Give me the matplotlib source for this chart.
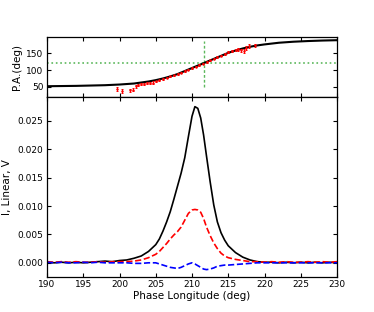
import matplotlib
matplotlib.use("Agg")
import matplotlib.pyplot as plt

# PA model curve
pa_lon = [190, 194, 198, 200, 202, 203, 204, 205, 206, 207, 208, 209, 210, 211, 211.6,
          212, 213, 214, 215, 216, 217, 218, 219, 220, 222, 224, 226, 228, 230]
pa_fit = [52, 53, 55, 57, 60, 63, 66, 70, 75, 81, 88, 97, 106, 115, 120,
          124, 133, 142, 151, 158, 164, 169, 173, 176, 181, 184, 186, 187.5, 188.5]

# PA measured points
pt_lon = [199.7, 200.3, 201.5, 201.9, 202.3, 202.6, 203.0, 203.4, 203.8, 204.2, 204.6,
          205.0, 205.5, 206.0, 206.5, 207.0, 207.5, 208.0, 208.5, 209.0, 209.5, 210.0,
          210.5, 211.0, 211.5, 212.0, 212.5, 213.0, 213.5, 214.0, 214.5, 215.0, 215.5,
          216.0, 216.4, 216.8, 217.2, 217.5, 217.9, 218.7]
pt_pa = [44, 38, 40, 42, 52, 57, 58, 60, 62, 61, 63,
         66, 69, 73, 77, 81, 84, 88, 92, 97, 101, 106,
         110, 115, 119, 124, 129, 134, 139, 143, 148, 153, 157,
         159, 161, 158, 156, 165, 171, 173]
pt_err = [6, 6, 5, 5, 4, 3, 3, 3, 3, 3, 3,
          2, 2, 2, 2, 2, 2, 2, 2, 2, 2, 2,
          2, 2, 2, 2, 2, 2, 2, 2, 2, 2, 3,
          3, 4, 5, 5, 5, 5, 5]

# Profiles
lon = [190, 191, 192, 193, 194, 195, 196, 197, 198, 199, 200, 201, 202, 203, 204, 205,
       205.5, 206, 206.5, 207, 207.5, 208, 208.5, 209, 209.5, 210, 210.4, 210.8, 211.2,
       211.6, 212, 212.5, 213, 213.5, 214, 214.5, 215, 216, 217, 218, 219, 220, 221, 222,
       223, 224, 225, 226, 227, 228, 229, 230]
I = [0.0001, 0.0000, 0.0001, 0.0000, 0.0001, 0.0000, 0.0001, 0.0002, 0.0003, 0.0002,
     0.0004, 0.0005, 0.0008, 0.0012, 0.0020, 0.0032, 0.0042, 0.0056, 0.0072, 0.0090,
     0.0112, 0.0135, 0.0158, 0.0185, 0.0222, 0.0258, 0.0275, 0.0272, 0.0255, 0.0225,
     0.0188, 0.0143, 0.0102, 0.0072, 0.0053, 0.0040, 0.0030, 0.0018, 0.0010, 0.0005,
     0.0002, 0.0001, 0.0001, 0.0000, 0.0001, 0.0000, 0.0001, 0.0000, 0.0001, 0.0000,
     0.0001, 0.0000]
L = [0.0002, 0.0001, 0.0002, 0.0001, 0.0002, 0.0001, 0.0001, 0.0002, 0.0001, 0.0002,
     0.0002, 0.0002, 0.0003, 0.0005, 0.0009, 0.0015, 0.0020, 0.0027, 0.0034, 0.0042,
     0.0049, 0.0055, 0.0063, 0.0075, 0.0087, 0.0093, 0.0094, 0.0093, 0.0089, 0.0078,
     0.0063, 0.0048, 0.0035, 0.0025, 0.0017, 0.0012, 0.0009, 0.0006, 0.0004, 0.0002,
     0.0002, 0.0001, 0.0002, 0.0001, 0.0002, 0.0001, 0.0001, 0.0002, 0.0001, 0.0002,
     0.0001, 0.0002]
V = [0.0001, 0.0000, 0.0001, 0.0000, 0.0000, 0.0001, 0.0000, 0.0001, 0.0000, 0.0000,
     0.0000, 0.0000, -0.0001, -0.0001, 0.0000, 0.0000, -0.0002, -0.0004, -0.0006, -0.0008,
     -0.0009, -0.0010, -0.0008, -0.0005, -0.0002, 0.0000, -0.0002, -0.0005, -0.0008,
     -0.0011, -0.0012, -0.0011, -0.0009, -0.0006, -0.0005, -0.0004, -0.0004, -0.0003,
     -0.0002, -0.0001, 0.0000, 0.0000, 0.0000, 0.0000, 0.0000, 0.0000, 0.0000, 0.0000,
     0.0000, 0.0000, 0.0000, 0.0000]

xticks = [190, 195, 200, 205, 210, 215, 220, 225, 230]
pa_ticks = [50, 100, 150]
i_ticks = [0.000, 0.005, 0.010, 0.015, 0.020, 0.025]

fig = plt.figure(figsize=(3.74, 3.12), dpi=100)
ax1 = fig.add_axes([47/374, 1-97/312, 290/374, 60/312])
ax2 = fig.add_axes([47/374, 1-277/312, 290/374, 180/312])

ax1.plot(pa_lon, pa_fit, color='black', lw=1.5, zorder=3)
ax1.errorbar(pt_lon, pt_pa, yerr=pt_err, fmt='o', ms=0.8, color='red', ecolor='red',
             elinewidth=0.7, capsize=1.0, capthick=0.7, zorder=4)
ax1.axhline(120, color='#5cb85c', ls=':', lw=1.2, zorder=2)
ax1.plot([211.6, 211.6], [50, 186], color='#5cb85c', ls='--', lw=1.0, dashes=(2, 1.5), zorder=2)
ax1.set_xlim(190, 230)
ax1.set_ylim(20, 198)
ax1.set_yticks(pa_ticks)
ax1.set_xticks(xticks)
ax1.set_xticklabels([])
ax1.set_ylabel('P.A.(deg)', fontsize=7.5, labelpad=3)

ax2.plot(lon, I, color='black', lw=1.2)
ax2.plot(lon, L, color='red', ls='--', lw=1.2)
ax2.plot(lon, V, color='blue', ls='--', lw=1.2)
ax2.set_xlim(190, 230)
ax2.set_ylim(-0.0025, 0.0292)
ax2.set_xticks(xticks)
ax2.set_yticks(i_ticks)
ax2.set_yticklabels(['%.3f' % t for t in i_ticks])
ax2.set_xlabel('Phase Longitude (deg)', fontsize=7.5, labelpad=1)
ax2.set_ylabel('I, Linear, V', fontsize=7.5, labelpad=4)

for ax in (ax1, ax2):
    ax.tick_params(direction='in', top=True, right=True, labelsize=6.5, length=3, width=0.8, pad=2.5)
    for s in ax.spines.values():
        s.set_linewidth(0.9)

fig.savefig('out.png', dpi=100)
